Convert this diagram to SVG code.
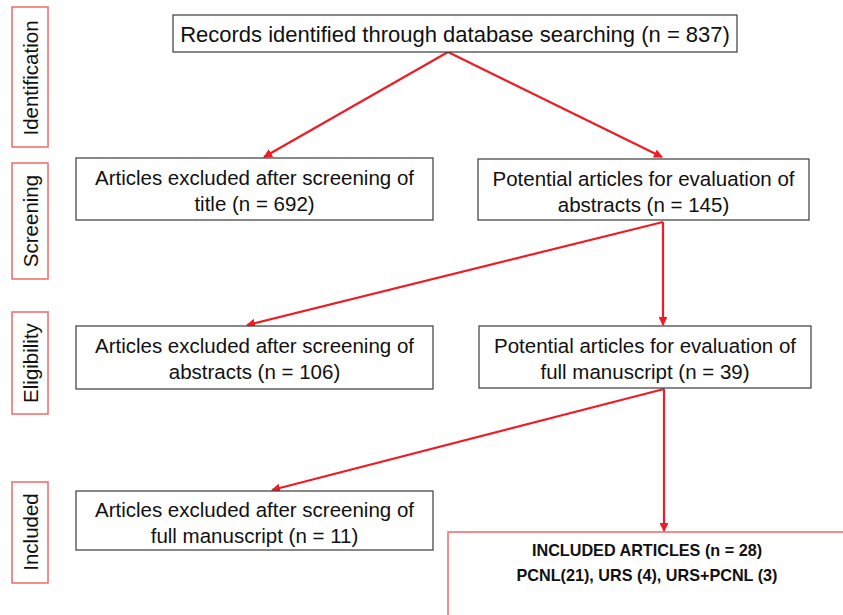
<svg xmlns="http://www.w3.org/2000/svg" width="843" height="615" viewBox="0 0 843 615">
<style>
.box{fill:#fff;stroke:#3a3a3a;stroke-width:1.2}
.side{fill:#fff;stroke:#f06a6a;stroke-width:1.5}
.t{font-family:"Liberation Sans",Arial,sans-serif;font-size:20.5px;fill:#111;text-anchor:middle}
.top{font-size:22px}
.s{font-family:"Liberation Sans",Arial,sans-serif;font-size:20.5px;fill:#111;text-anchor:middle}
.b{font-family:"Liberation Sans",Arial,sans-serif;font-size:16.2px;font-weight:bold;fill:#111;text-anchor:middle}
.c{stroke:#ee1c24;stroke-width:2.2;fill:none;marker-end:url(#ah)}
</style>
<defs>
<marker id="ah" viewBox="0 0 10 10" refX="9" refY="5" markerWidth="4" markerHeight="4" orient="auto" markerUnits="strokeWidth">
<path d="M0,0 L10,5 L0,10 z" fill="#ee1c24"/>
</marker>
</defs>
<rect width="843" height="615" fill="#fff"/>
<g id="side-identification"><rect class="side" x="12" y="7" width="36" height="140"/><text class="s" transform="translate(38,78) rotate(-90)">Identification</text></g>
<g id="side-screening"><rect class="side" x="12" y="163" width="36" height="116"/><text class="s" transform="translate(38,221) rotate(-90)">Screening</text></g>
<g id="side-eligibility"><rect class="side" x="12" y="312" width="36" height="102"/><text class="s" transform="translate(38,363) rotate(-90)">Eligibility</text></g>
<g id="side-included"><rect class="side" x="12" y="482" width="36" height="101"/><text class="s" transform="translate(38,532) rotate(-90)">Included</text></g>
<g id="connectors">
<line class="c" x1="448" y1="52" x2="264" y2="157"/>
<line class="c" x1="448" y1="52" x2="662" y2="157"/>
<polyline class="c" points="663,222 663,325"/>
<line class="c" x1="663" y1="222" x2="247" y2="325"/>
<polyline class="c" points="664,389 664,531"/>
<line class="c" x1="664" y1="389" x2="272" y2="490"/>
</g>
<g id="n-records"><rect class="box" x="173" y="15" width="564" height="37"/><text class="t top" x="455" y="42">Records identified through database searching (n = 837)</text></g>
<g id="n-excl-title"><rect class="box" x="76" y="158" width="357" height="62"/><text class="t" x="254.5" y="185">Articles excluded after screening of</text><text class="t" x="254.5" y="211">title (n = 692)</text></g>
<g id="n-pot-abstracts"><rect class="box" x="478" y="159" width="331" height="61"/><text class="t" x="643.5" y="186">Potential articles for evaluation of</text><text class="t" x="643.5" y="212">abstracts  (n = 145)</text></g>
<g id="n-excl-abstracts"><rect class="box" x="76" y="326" width="357" height="63"/><text class="t" x="254.5" y="353">Articles excluded after screening of</text><text class="t" x="254.5" y="379">abstracts (n = 106)</text></g>
<g id="n-pot-full"><rect class="box" x="479" y="326" width="332" height="62"/><text class="t" x="645" y="353">Potential articles for evaluation of</text><text class="t" x="645" y="379">full manuscript  (n = 39)</text></g>
<g id="n-excl-full"><rect class="box" x="76" y="491" width="357" height="59"/><text class="t" x="254.5" y="517">Articles excluded after screening of</text><text class="t" x="254.5" y="543">full manuscript (n = 11)</text></g>
<g id="n-included"><path d="M448,615 L448,532 L843,532" fill="#fff" stroke="#f06a6a" stroke-width="1.5"/><text class="b" x="647" y="556">INCLUDED ARTICLES (n = 28)</text><text class="b" x="647" y="581">PCNL(21), URS (4), URS+PCNL (3)</text></g>
</svg>
